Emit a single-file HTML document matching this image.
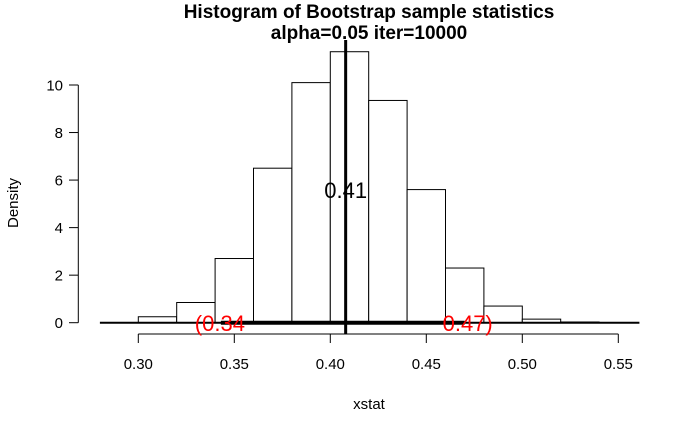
<!DOCTYPE html>
<html><head><meta charset="utf-8"><style>
body{margin:0;background:#fff}
svg{display:block;font-family:"Liberation Sans",Arial,sans-serif}
</style></head><body>
<svg id="c" width="700" height="432" viewBox="0 0 700 432">
<text x="369" y="18" text-anchor="middle" font-weight="bold" font-size="19">Histogram of Bootstrap sample statistics</text>
<text x="369" y="39" text-anchor="middle" font-weight="bold" font-size="19">alpha=0.05 iter=10000</text>
<text transform="translate(18,203) rotate(-90)" text-anchor="middle" font-size="15">Density</text>
<text x="369" y="409" text-anchor="middle" font-size="15">xstat</text>
<g id="bars"></g><g id="axes"></g><g id="marks"></g>
</svg>
<script>
const binStarts=[0.30,0.32,0.34,0.36,0.38,0.40,0.42,0.44,0.46,0.48,0.50,0.52];
const densities=[0.25,0.85,2.7,6.5,10.1,11.4,9.35,5.6,2.3,0.7,0.15,0.03];
const binWidth=0.02;
const xTicks=[0.30,0.35,0.40,0.45,0.50,0.55];
const xTickLabels=["0.30","0.35","0.40","0.45","0.50","0.55"];
const yTicks=[0,2,4,6,8,10];
const statValue=0.408, statLabel="0.41";
const ciLow=0.343, ciHigh=0.47, ciLowLabel="(0.34", ciHighLabel="0.47)";
const rangeMin=0.28, rangeMax=0.561;
const X=v=>138.3+(v-0.30)*1920;
const Y=v=>322.7-v*23.77;
const NS="http://www.w3.org/2000/svg";
function mk(p,t,a){const e=document.createElementNS(NS,t);for(const k in a)e.setAttribute(k,a[k]);p.appendChild(e);return e;}
const bars=document.getElementById('bars'),axes=document.getElementById('axes'),marks=document.getElementById('marks');
binStarts.forEach((b,i)=>{
 const r=mk(bars,'rect',{x:X(b),y:Y(densities[i]),width:X(b+binWidth)-X(b),height:Y(0)-Y(densities[i]),fill:'#fff',stroke:'#000','stroke-width':1});
 
 
});
const ya=mk(axes,'line',{x1:78.3,x2:78.3,y1:Y(yTicks[0]),y2:Y(yTicks[yTicks.length-1]),stroke:'#000'});


yTicks.forEach(t=>{
 mk(axes,'line',{x1:69,x2:78.3,y1:Y(t),y2:Y(t),stroke:'#000'});
 const tx=mk(axes,'text',{x:63,y:Y(t)+5.5,'text-anchor':'end','font-size':15});tx.textContent=t;
 
 
});
const xa=mk(axes,'line',{x1:X(xTicks[0]),x2:X(xTicks[xTicks.length-1]),y1:334,y2:334,stroke:'#000'});


xTicks.forEach((t,i)=>{
 mk(axes,'line',{x1:X(t),x2:X(t),y1:334,y2:343,stroke:'#000'});
 const tx=mk(axes,'text',{x:X(t),y:369,'text-anchor':'middle','font-size':15});tx.textContent=xTickLabels[i];
 
 
});
const rl=mk(marks,'line',{x1:X(rangeMin),x2:X(rangeMax),y1:Y(0),y2:Y(0),stroke:'#000','stroke-width':2});


const cl=mk(marks,'line',{x1:X(ciLow),x2:X(ciHigh),y1:Y(0),y2:Y(0),stroke:'#000','stroke-width':4});


const sl=mk(marks,'line',{x1:X(statValue),x2:X(statValue),y1:40,y2:334,stroke:'#000','stroke-width':3});


const st=mk(marks,'text',{x:X(statValue),y:198,'text-anchor':'middle','font-size':22});st.textContent=statLabel;


const l1=mk(marks,'text',{x:X(ciLow)-1,y:331,'text-anchor':'middle','font-size':22,fill:'#f00'});l1.textContent=ciLowLabel;


const l2=mk(marks,'text',{x:X(ciHigh)+3,y:331,'text-anchor':'middle','font-size':22,fill:'#f00'});l2.textContent=ciHighLabel;


</script>
</body></html>
